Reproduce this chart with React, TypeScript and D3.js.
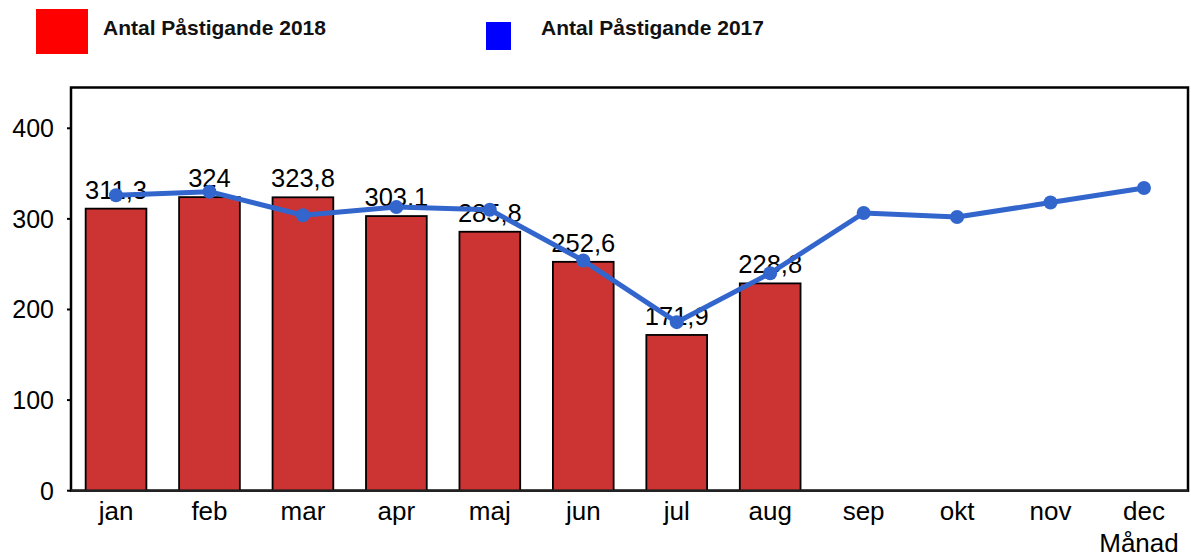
import React from "react";
import * as d3 from "d3";

const months = ["jan", "feb", "mar", "apr", "maj", "jun", "jul", "aug", "sep", "okt", "nov", "dec"];
const values2018 = [311.3, 324, 323.8, 303.1, 285.8, 252.6, 171.9, 228.8];
const labels2018 = ["311,3", "324", "323,8", "303,1", "285,8", "252,6", "171,9", "228,8"];
const values2017 = [326, 330, 304, 313, 310, 254, 186, 240, 306.5, 302, 318, 334];
const yTicks = [0, 100, 200, 300, 400];
const legendLabels = ["Antal Påstigande 2018", "Antal Påstigande 2017"];
const xTitle = "Månad";

const W = 1191;
const H = 558;
const frame = { left: 71, top: 87.5, right: 1188, bottom: 490.7 };
const FONT = "'Liberation Sans', Arial, sans-serif";

export default function App() {
  const x = d3.scaleBand<string>().domain(months).range([69.3, 1190.7]).paddingInner(0.35).paddingOuter(0.175);
  const y = d3.scaleLinear().domain([0, 445]).range([frame.bottom, frame.top]);
  const line = d3
    .line<number>()
    .x((_, i) => (x(months[i]) as number) + x.bandwidth() / 2)
    .y((d) => y(d));

  return (
    <>
      <style>{`body{margin:0}`}</style>
      <svg width={W} height={H} style={{ display: "block", fontFamily: FONT }}>
        <rect width={W} height={H} fill="#ffffff" />
        {/* legend */}
        <rect x={36} y={9} width={52} height={45} fill="#ff0000" />
        <text x={103} y={35} fontSize={21} fontWeight="bold" fill="#111">{legendLabels[0]}</text>
        <rect x={486} y={22} width={25} height={28} fill="#0000ff" />
        <text x={541} y={35} fontSize={21} fontWeight="bold" fill="#111">{legendLabels[1]}</text>

        {/* frame */}
        <rect
          x={frame.left}
          y={frame.top}
          width={frame.right - frame.left}
          height={frame.bottom - frame.top}
          fill="none"
          stroke="#000"
          strokeWidth={2.5}
        />

        {/* bars */}
        {values2018.map((v, i) => (
          <rect
            key={months[i]}
            x={x(months[i])}
            y={y(v)}
            width={x.bandwidth()}
            height={y(0) - y(v)}
            fill="#cc3333"
            stroke="#000"
            strokeWidth={1.8}
          />
        ))}
        <line x1={frame.left} x2={frame.right} y1={frame.bottom} y2={frame.bottom} stroke="#222" strokeWidth={2.5} />

        {/* y axis ticks */}
        {yTicks.map((t) => (
          <g key={t}>
            <line x1={frame.left - 4} x2={frame.left} y1={y(t)} y2={y(t)} stroke="#000" strokeWidth={2} />
            <text x={54} y={y(t)} dy="0.36em" textAnchor="end" fontSize={25} fill="#000">
              {t}
            </text>
          </g>
        ))}

        {/* x labels */}
        {months.map((m) => (
          <text key={m} x={(x(m) as number) + x.bandwidth() / 2} y={520} textAnchor="middle" fontSize={26} fill="#000">
            {m}
          </text>
        ))}
        <text x={1139} y={552} textAnchor="middle" fontSize={26} fill="#000">{xTitle}</text>

        {/* bar labels */}
        {values2018.map((v, i) => (
          <text
            key={"l" + i}
            x={(x(months[i]) as number) + x.bandwidth() / 2}
            y={y(v) - 10}
            textAnchor="middle"
            fontSize={25.5}
            fill="#000"
          >
            {labels2018[i]}
          </text>
        ))}

        {/* line 2017 */}
        <path d={line(values2017) || ""} fill="none" stroke="#3366cc" strokeWidth={5} strokeLinejoin="round" />
        {values2017.map((v, i) => (
          <circle key={"p" + i} cx={(x(months[i]) as number) + x.bandwidth() / 2} cy={y(v)} r={7} fill="#3366cc" />
        ))}
      </svg>
    </>
  );
}
